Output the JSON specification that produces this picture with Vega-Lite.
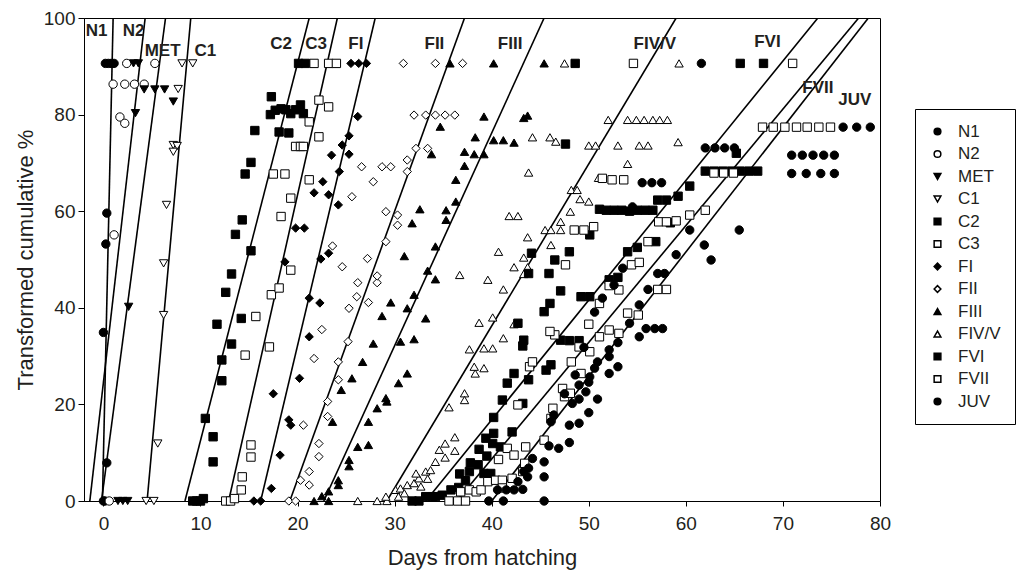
{
"$schema": "https://vega.github.io/schema/vega-lite/v6.json",
"width": 796, "height": 483,
"autosize": {"type": "none"},
"padding": {"left": 84, "top": 18, "right": 143, "bottom": 78},
"config": {"view": {"stroke": "black", "strokeWidth": 1}, "font": "Liberation Sans",
  "axis": {"grid": false, "domainColor": "black", "tickColor": "black", "labelColor": "#231f20", "titleColor": "#231f20", "labelFont": "Liberation Sans", "titleFont": "Liberation Sans", "labelFontSize": 19, "titleFontSize": 22, "titleFontWeight": "normal", "labelFlush": false},
  "legend": {"labelFont": "Liberation Sans", "labelColor": "#231f20"}},
"datasets": {
"lines": [
{"stage":"N1","day":-0.1,"pct":0},{"stage":"N1","day":1.0,"pct":100},
{"stage":"N2","day":-1.4,"pct":0},{"stage":"N2","day":4.3,"pct":100},
{"stage":"MET","day":-0.2,"pct":0},{"stage":"MET","day":6.4,"pct":100},
{"stage":"C1","day":4.5,"pct":0},{"stage":"C1","day":9.0,"pct":100},
{"stage":"C2","day":8.4,"pct":0},{"stage":"C2","day":21.2,"pct":100},
{"stage":"C3","day":12.9,"pct":0},{"stage":"C3","day":24.1,"pct":100},
{"stage":"FI","day":16.2,"pct":0},{"stage":"FI","day":28.0,"pct":100},
{"stage":"FII","day":19.2,"pct":0},{"stage":"FII","day":37.2,"pct":100},
{"stage":"FIII","day":22.7,"pct":0},{"stage":"FIII","day":45.4,"pct":100},
{"stage":"FIV/V","day":29.2,"pct":0},{"stage":"FIV/V","day":59.0,"pct":100},
{"stage":"FVI","day":33.2,"pct":0},{"stage":"FVI","day":73.6,"pct":100},
{"stage":"FVII","day":36.4,"pct":0},{"stage":"FVII","day":77.8,"pct":100},
{"stage":"JUV","day":40.0,"pct":0},{"stage":"JUV","day":78.8,"pct":100}
],
"labels": [
{"label":"N1","day":-0.7,"pct":97.3},{"label":"N2","day":3.1,"pct":97.3},{"label":"MET","day":6.1,"pct":93.2},{"label":"C1","day":10.5,"pct":93.2},
{"label":"C2","day":18.3,"pct":94.7},{"label":"C3","day":21.9,"pct":94.7},{"label":"FI","day":26.0,"pct":94.7},{"label":"FII","day":34.1,"pct":94.7},
{"label":"FIII","day":41.9,"pct":94.7},{"label":"FIV/V","day":56.8,"pct":94.7},{"label":"FVI","day":68.4,"pct":95},{"label":"FVII","day":73.6,"pct":85.5},{"label":"JUV","day":77.4,"pct":83}
],
"pts": [
{"stage":"N1","day":0.2,"pct":90.6},{"stage":"N1","day":0.5,"pct":90.6},{"stage":"N1","day":0.8,"pct":90.6},{"stage":"N1","day":1.1,"pct":90.6},{"stage":"N1","day":0.35,"pct":59.6},{"stage":"N1","day":0.25,"pct":53.2},{"stage":"N1","day":0.0,"pct":34.9},{"stage":"N1","day":0.35,"pct":7.9},{"stage":"N1","day":0.0,"pct":0},{"stage":"N1","day":0.15,"pct":0},
{"stage":"N2","day":2.4,"pct":90.6},{"stage":"N2","day":5.3,"pct":90.6},{"stage":"N2","day":1.0,"pct":86.3},{"stage":"N2","day":2.2,"pct":86.3},{"stage":"N2","day":3.2,"pct":86.3},{"stage":"N2","day":4.2,"pct":86.3},{"stage":"N2","day":1.7,"pct":79.5},{"stage":"N2","day":2.2,"pct":78.2},{"stage":"N2","day":1.1,"pct":55.1},{"stage":"N2","day":0.6,"pct":0},
{"stage":"MET","day":3.1,"pct":90.6},{"stage":"MET","day":3.6,"pct":90.6},{"stage":"MET","day":4.2,"pct":85.2},{"stage":"MET","day":5.3,"pct":85.2},{"stage":"MET","day":6.3,"pct":85.2},{"stage":"MET","day":7.2,"pct":82.7},{"stage":"MET","day":3.3,"pct":80.3},{"stage":"MET","day":2.6,"pct":40.2},{"stage":"MET","day":1.5,"pct":0},{"stage":"MET","day":2.0,"pct":0},{"stage":"MET","day":2.5,"pct":0},
{"stage":"C1","day":8.1,"pct":90.6},{"stage":"C1","day":9.2,"pct":90.6},{"stage":"C1","day":7.7,"pct":85.3},{"stage":"C1","day":7.2,"pct":73.7},{"stage":"C1","day":7.6,"pct":73.5},{"stage":"C1","day":7.2,"pct":72.3},{"stage":"C1","day":6.5,"pct":61.3},{"stage":"C1","day":6.2,"pct":49.2},{"stage":"C1","day":6.2,"pct":38.5},{"stage":"C1","day":5.6,"pct":11.9},{"stage":"C1","day":4.4,"pct":0},{"stage":"C1","day":5.2,"pct":0},
{"stage":"C2","day":9.2,"pct":0},{"stage":"C2","day":9.6,"pct":0},{"stage":"C2","day":10.0,"pct":0},{"stage":"C2","day":10.3,"pct":0.5},{"stage":"C2","day":11.3,"pct":8.1},{"stage":"C2","day":11.3,"pct":13.3},{"stage":"C2","day":10.5,"pct":17.1},{"stage":"C2","day":12.2,"pct":24.9},{"stage":"C2","day":12.2,"pct":29.2},{"stage":"C2","day":13.2,"pct":32.5},{"stage":"C2","day":11.7,"pct":36.6},{"stage":"C2","day":14.2,"pct":37.8},{"stage":"C2","day":12.6,"pct":43.2},{"stage":"C2","day":13.2,"pct":47},{"stage":"C2","day":15.2,"pct":51.8},{"stage":"C2","day":13.6,"pct":55.2},{"stage":"C2","day":14.3,"pct":58.2},{"stage":"C2","day":14.6,"pct":67.7},{"stage":"C2","day":15.2,"pct":70.1},{"stage":"C2","day":15.6,"pct":76.7},{"stage":"C2","day":17.3,"pct":83.7},{"stage":"C2","day":17.2,"pct":80.0},{"stage":"C2","day":17.7,"pct":80.9},{"stage":"C2","day":18.3,"pct":81.2},{"stage":"C2","day":18.8,"pct":81.0},{"stage":"C2","day":19.3,"pct":80.2},{"stage":"C2","day":19.8,"pct":81.0},{"stage":"C2","day":20.3,"pct":82.0},{"stage":"C2","day":20.6,"pct":80.2},{"stage":"C2","day":18.1,"pct":76.4},{"stage":"C2","day":19.1,"pct":76.2},{"stage":"C2","day":20.1,"pct":90.6},{"stage":"C2","day":20.8,"pct":90.6},
{"stage":"C3","day":12.6,"pct":0},{"stage":"C3","day":13.1,"pct":0},{"stage":"C3","day":13.5,"pct":0.5},{"stage":"C3","day":14.2,"pct":2.3},{"stage":"C3","day":14.3,"pct":5.0},{"stage":"C3","day":15.2,"pct":9.1},{"stage":"C3","day":15.2,"pct":11.6},{"stage":"C3","day":14.6,"pct":30.2},{"stage":"C3","day":17.1,"pct":31.9},{"stage":"C3","day":15.7,"pct":38.2},{"stage":"C3","day":17.3,"pct":42.7},{"stage":"C3","day":18.1,"pct":44.1},{"stage":"C3","day":19.3,"pct":47.8},{"stage":"C3","day":18.3,"pct":58.9},{"stage":"C3","day":19.3,"pct":62.7},{"stage":"C3","day":21.2,"pct":66.5},{"stage":"C3","day":17.5,"pct":67.7},{"stage":"C3","day":18.7,"pct":67.7},{"stage":"C3","day":19.8,"pct":73.4},{"stage":"C3","day":20.3,"pct":73.4},{"stage":"C3","day":20.6,"pct":73.4},{"stage":"C3","day":22.2,"pct":75.4},{"stage":"C3","day":21.2,"pct":78.5},{"stage":"C3","day":23.2,"pct":81.6},{"stage":"C3","day":22.2,"pct":83.0},{"stage":"C3","day":21.7,"pct":90.6},{"stage":"C3","day":23.2,"pct":90.6},{"stage":"C3","day":24.0,"pct":90.6},
{"stage":"FI","day":15.5,"pct":0},{"stage":"FI","day":16.2,"pct":0},{"stage":"FI","day":17.3,"pct":2.6},{"stage":"FI","day":18.2,"pct":9.5},{"stage":"FI","day":19.1,"pct":16.8},{"stage":"FI","day":19.3,"pct":15.7},{"stage":"FI","day":17.5,"pct":22.2},{"stage":"FI","day":20.2,"pct":25.4},{"stage":"FI","day":21.2,"pct":34.0},{"stage":"FI","day":21.2,"pct":42.0},{"stage":"FI","day":22.3,"pct":41.0},{"stage":"FI","day":18.7,"pct":49.5},{"stage":"FI","day":22.4,"pct":50.1},{"stage":"FI","day":23.2,"pct":51.3},{"stage":"FI","day":19.8,"pct":56.5},{"stage":"FI","day":20.7,"pct":56.5},{"stage":"FI","day":24.2,"pct":61.3},{"stage":"FI","day":21.7,"pct":63.8},{"stage":"FI","day":23.2,"pct":63.4},{"stage":"FI","day":22.6,"pct":66.1},{"stage":"FI","day":24.3,"pct":68.2},{"stage":"FI","day":23.5,"pct":71.6},{"stage":"FI","day":25.3,"pct":71.8},{"stage":"FI","day":24.6,"pct":73.7},{"stage":"FI","day":25.3,"pct":75.6},{"stage":"FI","day":26.2,"pct":79.6},{"stage":"FI","day":25.5,"pct":90.6},{"stage":"FI","day":26.3,"pct":90.6},{"stage":"FI","day":27.1,"pct":90.6},
{"stage":"FII","day":19.1,"pct":0},{"stage":"FII","day":19.8,"pct":0},{"stage":"FII","day":20.3,"pct":4.3},{"stage":"FII","day":21.2,"pct":3.3},{"stage":"FII","day":21.2,"pct":6.1},{"stage":"FII","day":22.2,"pct":9.2},{"stage":"FII","day":22.2,"pct":11.9},{"stage":"FII","day":20.6,"pct":15.7},{"stage":"FII","day":23.1,"pct":17.5},{"stage":"FII","day":23.1,"pct":20.6},{"stage":"FII","day":24.2,"pct":25.1},{"stage":"FII","day":24.2,"pct":28.8},{"stage":"FII","day":21.7,"pct":29.5},{"stage":"FII","day":25.2,"pct":33.0},{"stage":"FII","day":22.5,"pct":35.5},{"stage":"FII","day":25.3,"pct":39.9},{"stage":"FII","day":26.1,"pct":42.3},{"stage":"FII","day":27.3,"pct":41.1},{"stage":"FII","day":26.2,"pct":45.2},{"stage":"FII","day":28.2,"pct":45.2},{"stage":"FII","day":28.2,"pct":46.6},{"stage":"FII","day":24.6,"pct":48.5},{"stage":"FII","day":27.2,"pct":50.2},{"stage":"FII","day":23.6,"pct":52.8},{"stage":"FII","day":29.1,"pct":53.7},{"stage":"FII","day":30.3,"pct":57.1},{"stage":"FII","day":30.3,"pct":59.2},{"stage":"FII","day":29.1,"pct":59.9},{"stage":"FII","day":25.6,"pct":63.0},{"stage":"FII","day":27.8,"pct":66.1},{"stage":"FII","day":31.3,"pct":68.2},{"stage":"FII","day":26.6,"pct":69.2},{"stage":"FII","day":28.7,"pct":69.2},{"stage":"FII","day":29.6,"pct":69.2},{"stage":"FII","day":31.3,"pct":70.6},{"stage":"FII","day":32.2,"pct":73.0},{"stage":"FII","day":33.4,"pct":73.0},{"stage":"FII","day":32.0,"pct":79.9},{"stage":"FII","day":33.2,"pct":79.9},{"stage":"FII","day":34.2,"pct":79.9},{"stage":"FII","day":35.2,"pct":79.9},{"stage":"FII","day":36.2,"pct":79.9},{"stage":"FII","day":30.9,"pct":90.6},{"stage":"FII","day":34.2,"pct":90.6},{"stage":"FII","day":37.0,"pct":90.6},
{"stage":"FIII","day":21.7,"pct":0},{"stage":"FIII","day":22.5,"pct":1.0},{"stage":"FIII","day":23.2,"pct":0},{"stage":"FIII","day":23.2,"pct":2},{"stage":"FIII","day":24.2,"pct":4.3},{"stage":"FIII","day":24.2,"pct":3.3},{"stage":"FIII","day":25.3,"pct":8.5},{"stage":"FIII","day":25.3,"pct":7.2},{"stage":"FIII","day":26.2,"pct":11.2},{"stage":"FIII","day":27.3,"pct":11.6},{"stage":"FIII","day":23.6,"pct":16.4},{"stage":"FIII","day":27.3,"pct":16.4},{"stage":"FIII","day":28.2,"pct":19.2},{"stage":"FIII","day":29.1,"pct":21.3},{"stage":"FIII","day":29.2,"pct":20.6},{"stage":"FIII","day":24.5,"pct":23.0},{"stage":"FIII","day":30.4,"pct":24.4},{"stage":"FIII","day":25.6,"pct":25.4},{"stage":"FIII","day":31.3,"pct":26.4},{"stage":"FIII","day":26.7,"pct":28.8},{"stage":"FIII","day":27.8,"pct":32.6},{"stage":"FIII","day":30.6,"pct":33.0},{"stage":"FIII","day":32.0,"pct":33.5},{"stage":"FIII","day":33.2,"pct":37.8},{"stage":"FIII","day":28.7,"pct":38.3},{"stage":"FIII","day":31.3,"pct":39.9},{"stage":"FIII","day":29.6,"pct":41.1},{"stage":"FIII","day":32.0,"pct":42.7},{"stage":"FIII","day":33.4,"pct":47.7},{"stage":"FIII","day":34.2,"pct":45.9},{"stage":"FIII","day":31.0,"pct":50.7},{"stage":"FIII","day":34.2,"pct":52.7},{"stage":"FIII","day":31.8,"pct":57.5},{"stage":"FIII","day":32.6,"pct":60.4},{"stage":"FIII","day":35.3,"pct":60.2},{"stage":"FIII","day":35.3,"pct":58.2},{"stage":"FIII","day":36.3,"pct":62.0},{"stage":"FIII","day":36.3,"pct":66.5},{"stage":"FIII","day":37.2,"pct":69.4},{"stage":"FIII","day":37.2,"pct":72.3},{"stage":"FIII","day":38.2,"pct":71.8},{"stage":"FIII","day":39.2,"pct":71.8},{"stage":"FIII","day":33.8,"pct":71.8},{"stage":"FIII","day":38.3,"pct":75.3},{"stage":"FIII","day":40.2,"pct":74.7},{"stage":"FIII","day":41.2,"pct":74.7},{"stage":"FIII","day":42.3,"pct":74.2},{"stage":"FIII","day":34.7,"pct":77.5},{"stage":"FIII","day":39.2,"pct":79.6},{"stage":"FIII","day":43.3,"pct":79.3},{"stage":"FIII","day":43.7,"pct":79.8},{"stage":"FIII","day":35.7,"pct":90.6},{"stage":"FIII","day":40.2,"pct":90.6},{"stage":"FIII","day":45.4,"pct":90.6},
{"stage":"FIV/V","day":26.2,"pct":0},{"stage":"FIV/V","day":28.2,"pct":0},{"stage":"FIV/V","day":29.2,"pct":0},{"stage":"FIV/V","day":29.1,"pct":0.9},{"stage":"FIV/V","day":30.1,"pct":2.3},{"stage":"FIV/V","day":30.4,"pct":0.9},{"stage":"FIV/V","day":30.6,"pct":2.6},{"stage":"FIV/V","day":31.0,"pct":1.6},{"stage":"FIV/V","day":31.3,"pct":3.3},{"stage":"FIV/V","day":32.0,"pct":3.7},{"stage":"FIV/V","day":32.5,"pct":4.7},{"stage":"FIV/V","day":32.2,"pct":5.7},{"stage":"FIV/V","day":33.4,"pct":4.6},{"stage":"FIV/V","day":32.7,"pct":3.0},{"stage":"FIV/V","day":33.2,"pct":6.1},{"stage":"FIV/V","day":33.7,"pct":6.4},{"stage":"FIV/V","day":34.2,"pct":8.1},{"stage":"FIV/V","day":34.6,"pct":10.6},{"stage":"FIV/V","day":35.2,"pct":11.9},{"stage":"FIV/V","day":35.2,"pct":9.0},{"stage":"FIV/V","day":36.2,"pct":10.4},{"stage":"FIV/V","day":36.2,"pct":13.2},{"stage":"FIV/V","day":35.6,"pct":19.4},{"stage":"FIV/V","day":37.2,"pct":22.3},{"stage":"FIV/V","day":37.2,"pct":20.9},{"stage":"FIV/V","day":38.3,"pct":26.4},{"stage":"FIV/V","day":38.2,"pct":27.8},{"stage":"FIV/V","day":39.2,"pct":27.5},{"stage":"FIV/V","day":37.7,"pct":31.4},{"stage":"FIV/V","day":39.2,"pct":31.6},{"stage":"FIV/V","day":40.1,"pct":31.6},{"stage":"FIV/V","day":41.2,"pct":33.7},{"stage":"FIV/V","day":42.3,"pct":36.6},{"stage":"FIV/V","day":38.7,"pct":36.9},{"stage":"FIV/V","day":40.1,"pct":38.0},{"stage":"FIV/V","day":41.2,"pct":43.8},{"stage":"FIV/V","day":39.6,"pct":45.8},{"stage":"FIV/V","day":36.7,"pct":46.8},{"stage":"FIV/V","day":42.3,"pct":48.4},{"stage":"FIV/V","day":43.3,"pct":47.0},{"stage":"FIV/V","day":43.7,"pct":48.4},{"stage":"FIV/V","day":43.3,"pct":50.4},{"stage":"FIV/V","day":40.7,"pct":51.6},{"stage":"FIV/V","day":46.1,"pct":53.0},{"stage":"FIV/V","day":43.7,"pct":54.6},{"stage":"FIV/V","day":45.5,"pct":56.1},{"stage":"FIV/V","day":46.1,"pct":56.1},{"stage":"FIV/V","day":47.1,"pct":56.1},{"stage":"FIV/V","day":47.1,"pct":57.8},{"stage":"FIV/V","day":48.1,"pct":59.9},{"stage":"FIV/V","day":41.8,"pct":59.0},{"stage":"FIV/V","day":42.7,"pct":59.0},{"stage":"FIV/V","day":49.1,"pct":62.5},{"stage":"FIV/V","day":50.0,"pct":62.0},{"stage":"FIV/V","day":48.2,"pct":64.4},{"stage":"FIV/V","day":48.8,"pct":64.4},{"stage":"FIV/V","day":51.0,"pct":66.9},{"stage":"FIV/V","day":43.8,"pct":68.0},{"stage":"FIV/V","day":54.0,"pct":69.8},{"stage":"FIV/V","day":44.2,"pct":75.3},{"stage":"FIV/V","day":46.0,"pct":75.3},{"stage":"FIV/V","day":46.6,"pct":74.4},{"stage":"FIV/V","day":50.0,"pct":73.6},{"stage":"FIV/V","day":50.7,"pct":73.6},{"stage":"FIV/V","day":53.0,"pct":73.6},{"stage":"FIV/V","day":55.2,"pct":73.6},{"stage":"FIV/V","day":56.1,"pct":73.6},{"stage":"FIV/V","day":52.0,"pct":78.9},{"stage":"FIV/V","day":54.0,"pct":78.9},{"stage":"FIV/V","day":54.9,"pct":78.9},{"stage":"FIV/V","day":55.7,"pct":78.9},{"stage":"FIV/V","day":56.6,"pct":78.9},{"stage":"FIV/V","day":57.3,"pct":78.9},{"stage":"FIV/V","day":58.1,"pct":78.9},{"stage":"FIV/V","day":47.5,"pct":90.6},{"stage":"FIV/V","day":59.3,"pct":90.6},{"stage":"FIV/V","day":59.2,"pct":74.3},
{"stage":"FVI","day":31.8,"pct":0},{"stage":"FVI","day":32.5,"pct":0},{"stage":"FVI","day":33.2,"pct":0.9},{"stage":"FVI","day":33.9,"pct":0.9},{"stage":"FVI","day":34.2,"pct":0.9},{"stage":"FVI","day":34.9,"pct":1.2},{"stage":"FVI","day":35.8,"pct":2.3},{"stage":"FVI","day":36.6,"pct":2.8},{"stage":"FVI","day":37.3,"pct":4.2},{"stage":"FVI","day":36.7,"pct":5.6},{"stage":"FVI","day":37.7,"pct":6.1},{"stage":"FVI","day":37.8,"pct":7.9},{"stage":"FVI","day":38.6,"pct":7.5},{"stage":"FVI","day":39.2,"pct":5.7},{"stage":"FVI","day":39.9,"pct":5.7},{"stage":"FVI","day":38.7,"pct":10.7},{"stage":"FVI","day":39.5,"pct":9.3},{"stage":"FVI","day":39.4,"pct":13.0},{"stage":"FVI","day":40.1,"pct":11.9},{"stage":"FVI","day":40.2,"pct":14.0},{"stage":"FVI","day":42.1,"pct":14.3},{"stage":"FVI","day":40.2,"pct":17.3},{"stage":"FVI","day":40.9,"pct":11.2},{"stage":"FVI","day":41.1,"pct":20.9},{"stage":"FVI","day":43.2,"pct":20.2},{"stage":"FVI","day":41.6,"pct":24.4},{"stage":"FVI","day":42.3,"pct":26.4},{"stage":"FVI","day":43.8,"pct":25.1},{"stage":"FVI","day":45.6,"pct":27.1},{"stage":"FVI","day":46.1,"pct":28.2},{"stage":"FVI","day":43.3,"pct":33.3},{"stage":"FVI","day":43.2,"pct":32.1},{"stage":"FVI","day":47.1,"pct":33.3},{"stage":"FVI","day":48.0,"pct":33.2},{"stage":"FVI","day":49.0,"pct":33.2},{"stage":"FVI","day":42.7,"pct":36.8},{"stage":"FVI","day":45.4,"pct":39.2},{"stage":"FVI","day":46.0,"pct":40.9},{"stage":"FVI","day":47.1,"pct":43.5},{"stage":"FVI","day":49.2,"pct":42.3},{"stage":"FVI","day":50.1,"pct":42.3},{"stage":"FVI","day":43.8,"pct":47.1},{"stage":"FVI","day":45.9,"pct":47.1},{"stage":"FVI","day":52.1,"pct":45.8},{"stage":"FVI","day":53.0,"pct":46.3},{"stage":"FVI","day":46.5,"pct":49.9},{"stage":"FVI","day":44.1,"pct":51.3},{"stage":"FVI","day":48.0,"pct":51.6},{"stage":"FVI","day":54.0,"pct":51.6},{"stage":"FVI","day":55.0,"pct":52.5},{"stage":"FVI","day":56.9,"pct":53.7},{"stage":"FVI","day":50.1,"pct":55.1},{"stage":"FVI","day":51.1,"pct":60.4},{"stage":"FVI","day":51.8,"pct":60.2},{"stage":"FVI","day":52.6,"pct":60.2},{"stage":"FVI","day":53.4,"pct":60.2},{"stage":"FVI","day":54.2,"pct":60.0},{"stage":"FVI","day":55.0,"pct":60.2},{"stage":"FVI","day":55.8,"pct":60.2},{"stage":"FVI","day":56.6,"pct":60.2},{"stage":"FVI","day":57.1,"pct":62.3},{"stage":"FVI","day":58.0,"pct":62.3},{"stage":"FVI","day":58.4,"pct":57.6},{"stage":"FVI","day":47.6,"pct":73.9},{"stage":"FVI","day":48.6,"pct":90.6},{"stage":"FVI","day":65.6,"pct":90.6},{"stage":"FVI","day":68.0,"pct":90.6},{"stage":"FVI","day":65.2,"pct":72.0},{"stage":"FVI","day":62.0,"pct":68.3},{"stage":"FVI","day":62.9,"pct":68.3},{"stage":"FVI","day":63.8,"pct":68.3},{"stage":"FVI","day":64.7,"pct":68.3},{"stage":"FVI","day":65.6,"pct":68.3},{"stage":"FVI","day":66.5,"pct":68.3},{"stage":"FVI","day":67.4,"pct":68.3},{"stage":"FVI","day":59.2,"pct":63.1},{"stage":"FVI","day":60.4,"pct":65.2},
{"stage":"FVII","day":35.6,"pct":0},{"stage":"FVII","day":36.5,"pct":0},{"stage":"FVII","day":37.3,"pct":0},{"stage":"FVII","day":36.8,"pct":1.9},{"stage":"FVII","day":37.7,"pct":2.3},{"stage":"FVII","day":38.4,"pct":1.9},{"stage":"FVII","day":38.9,"pct":2.3},{"stage":"FVII","day":39.6,"pct":4.0},{"stage":"FVII","day":40.4,"pct":4.3},{"stage":"FVII","day":41.1,"pct":4.3},{"stage":"FVII","day":41.1,"pct":2.7},{"stage":"FVII","day":42.1,"pct":4.7},{"stage":"FVII","day":43.2,"pct":6.1},{"stage":"FVII","day":43.4,"pct":7.8},{"stage":"FVII","day":40.7,"pct":8.6},{"stage":"FVII","day":41.6,"pct":10.9},{"stage":"FVII","day":42.3,"pct":9.5},{"stage":"FVII","day":43.5,"pct":11.2},{"stage":"FVII","day":45.4,"pct":12.6},{"stage":"FVII","day":46.1,"pct":17.1},{"stage":"FVII","day":46.3,"pct":19.2},{"stage":"FVII","day":42.7,"pct":19.9},{"stage":"FVII","day":47.3,"pct":23.3},{"stage":"FVII","day":47.5,"pct":21.6},{"stage":"FVII","day":48.1,"pct":22.3},{"stage":"FVII","day":43.9,"pct":27.8},{"stage":"FVII","day":44.2,"pct":28.8},{"stage":"FVII","day":48.2,"pct":28.8},{"stage":"FVII","day":49.2,"pct":26.4},{"stage":"FVII","day":46.5,"pct":34.4},{"stage":"FVII","day":46.0,"pct":35.1},{"stage":"FVII","day":49.0,"pct":31.9},{"stage":"FVII","day":50.1,"pct":30.9},{"stage":"FVII","day":51.1,"pct":34.0},{"stage":"FVII","day":52.1,"pct":35.4},{"stage":"FVII","day":53.1,"pct":34.7},{"stage":"FVII","day":50.0,"pct":36.6},{"stage":"FVII","day":51.1,"pct":40.9},{"stage":"FVII","day":54.0,"pct":38.9},{"stage":"FVII","day":55.1,"pct":38.5},{"stage":"FVII","day":52.1,"pct":44.6},{"stage":"FVII","day":53.1,"pct":43.7},{"stage":"FVII","day":57.1,"pct":43.8},{"stage":"FVII","day":58.0,"pct":43.8},{"stage":"FVII","day":47.6,"pct":48.9},{"stage":"FVII","day":54.4,"pct":48.9},{"stage":"FVII","day":55.2,"pct":49.4},{"stage":"FVII","day":56.1,"pct":53.7},{"stage":"FVII","day":48.5,"pct":56.1},{"stage":"FVII","day":49.5,"pct":56.1},{"stage":"FVII","day":50.5,"pct":56.8},{"stage":"FVII","day":57.2,"pct":57.8},{"stage":"FVII","day":58.0,"pct":57.8},{"stage":"FVII","day":51.4,"pct":66.8},{"stage":"FVII","day":52.4,"pct":66.5},{"stage":"FVII","day":53.6,"pct":66.5},{"stage":"FVII","day":54.6,"pct":90.6},{"stage":"FVII","day":71.0,"pct":90.6},{"stage":"FVII","day":67.9,"pct":77.4},{"stage":"FVII","day":69.0,"pct":77.4},{"stage":"FVII","day":70.2,"pct":77.4},{"stage":"FVII","day":71.4,"pct":77.4},{"stage":"FVII","day":72.5,"pct":77.4},{"stage":"FVII","day":73.7,"pct":77.4},{"stage":"FVII","day":74.9,"pct":77.4},{"stage":"FVII","day":62.9,"pct":67.9},{"stage":"FVII","day":63.9,"pct":67.9},{"stage":"FVII","day":64.9,"pct":67.9},{"stage":"FVII","day":60.4,"pct":59.2},{"stage":"FVII","day":62.0,"pct":60.2},{"stage":"FVII","day":59.0,"pct":58.0},
{"stage":"JUV","day":39.7,"pct":0},{"stage":"JUV","day":41.2,"pct":0},{"stage":"JUV","day":45.4,"pct":0},{"stage":"JUV","day":40.6,"pct":2.3},{"stage":"JUV","day":41.5,"pct":2.3},{"stage":"JUV","day":42.3,"pct":2.3},{"stage":"JUV","day":43.2,"pct":2.4},{"stage":"JUV","day":42.7,"pct":4.0},{"stage":"JUV","day":43.3,"pct":6.1},{"stage":"JUV","day":43.8,"pct":6.8},{"stage":"JUV","day":44.2,"pct":8.8},{"stage":"JUV","day":43.7,"pct":5.0},{"stage":"JUV","day":45.4,"pct":8.1},{"stage":"JUV","day":45.4,"pct":5.0},{"stage":"JUV","day":45.9,"pct":11.4},{"stage":"JUV","day":46.9,"pct":10.9},{"stage":"JUV","day":48.0,"pct":12.1},{"stage":"JUV","day":46.1,"pct":16.4},{"stage":"JUV","day":46.4,"pct":17.8},{"stage":"JUV","day":48.0,"pct":15.7},{"stage":"JUV","day":49.0,"pct":16.1},{"stage":"JUV","day":50.0,"pct":18.3},{"stage":"JUV","day":48.3,"pct":20.2},{"stage":"JUV","day":47.5,"pct":22.2},{"stage":"JUV","day":49.0,"pct":21.1},{"stage":"JUV","day":50.9,"pct":21.1},{"stage":"JUV","day":49.7,"pct":22.6},{"stage":"JUV","day":49.0,"pct":24.0},{"stage":"JUV","day":48.6,"pct":26.1},{"stage":"JUV","day":50.0,"pct":24.6},{"stage":"JUV","day":50.1,"pct":25.7},{"stage":"JUV","day":49.5,"pct":31.8},{"stage":"JUV","day":50.6,"pct":27.5},{"stage":"JUV","day":50.9,"pct":28.8},{"stage":"JUV","day":52.1,"pct":26.4},{"stage":"JUV","day":53.0,"pct":27.8},{"stage":"JUV","day":52.1,"pct":29.9},{"stage":"JUV","day":52.1,"pct":31.3},{"stage":"JUV","day":53.0,"pct":32.8},{"stage":"JUV","day":50.6,"pct":39.1},{"stage":"JUV","day":51.4,"pct":42.0},{"stage":"JUV","day":52.6,"pct":44.7},{"stage":"JUV","day":53.5,"pct":48.2},{"stage":"JUV","day":54.2,"pct":36.8},{"stage":"JUV","day":55.2,"pct":34.0},{"stage":"JUV","day":55.2,"pct":40.6},{"stage":"JUV","day":55.9,"pct":35.7},{"stage":"JUV","day":56.8,"pct":35.7},{"stage":"JUV","day":57.6,"pct":35.7},{"stage":"JUV","day":56.1,"pct":43.8},{"stage":"JUV","day":57.1,"pct":47.1},{"stage":"JUV","day":57.8,"pct":47.1},{"stage":"JUV","day":54.5,"pct":60.9},{"stage":"JUV","day":55.5,"pct":65.9},{"stage":"JUV","day":56.5,"pct":65.9},{"stage":"JUV","day":57.5,"pct":65.9},{"stage":"JUV","day":61.6,"pct":90.6},{"stage":"JUV","day":76.2,"pct":77.4},{"stage":"JUV","day":77.6,"pct":77.4},{"stage":"JUV","day":79.0,"pct":77.4},{"stage":"JUV","day":62.0,"pct":73.1},{"stage":"JUV","day":63.0,"pct":73.1},{"stage":"JUV","day":64.0,"pct":73.1},{"stage":"JUV","day":65.0,"pct":73.1},{"stage":"JUV","day":70.9,"pct":71.6},{"stage":"JUV","day":72.0,"pct":71.6},{"stage":"JUV","day":73.1,"pct":71.6},{"stage":"JUV","day":74.2,"pct":71.6},{"stage":"JUV","day":75.3,"pct":71.6},{"stage":"JUV","day":70.9,"pct":67.8},{"stage":"JUV","day":72.4,"pct":67.8},{"stage":"JUV","day":73.9,"pct":67.8},{"stage":"JUV","day":75.3,"pct":67.8},{"stage":"JUV","day":60.4,"pct":56.1},{"stage":"JUV","day":61.9,"pct":53.0},{"stage":"JUV","day":62.6,"pct":49.9},{"stage":"JUV","day":65.5,"pct":56.1},{"stage":"JUV","day":59.0,"pct":51.0}
]},
"layer": [
{"data": {"name": "lines"}, "mark": {"type": "line", "color": "black", "strokeWidth": 1.6, "clip": true},
 "encoding": {"x": {"field": "day", "type": "quantitative", "scale": {"domain": [-2, 80], "nice": false, "zero": false},
   "axis": {"values": [0,10,20,30,40,50,60,70,80], "title": "Days from hatching", "tickSize": 5, "labelPadding": 8, "titlePadding": 14}},
  "y": {"field": "pct", "type": "quantitative", "scale": {"domain": [0, 100], "nice": false},
   "axis": {"values": [0,20,40,60,80,100], "title": "Transformed cumulative %", "tickSize": 6, "labelPadding": 3, "titlePadding": 6}},
  "detail": {"field": "stage"}}},
{"data": {"name": "pts"}, "mark": {"type": "point", "size": 70, "stroke": "black", "strokeWidth": 1, "opacity": 1},
 "encoding": {"x": {"field": "day", "type": "quantitative"}, "y": {"field": "pct", "type": "quantitative"},
  "shape": {"field": "stage", "type": "nominal", "scale": {"domain": ["N1","N2","MET","C1","C2","C3","FI","FII","FIII","FIV/V","FVI","FVII","JUV"], "range": ["circle","circle","triangle-down","triangle-down","square","square","diamond","diamond","triangle-up","triangle-up","square","square","circle"]},
   "legend": {"title": null, "orient": "none", "legendX": 831, "legendY": 91, "strokeColor": "black", "fillColor": "white", "padding": 14, "labelFontSize": 17, "symbolSize": 45, "rowPadding": 4.5, "labelOffset": 12, "labelExpr": "datum.label + '          '", "encode": {"symbols": {"update": {"stroke": {"value": "black"}, "strokeWidth": {"value": 1}}}}}},
  "fill": {"field": "stage", "type": "nominal", "scale": {"domain": ["N1","N2","MET","C1","C2","C3","FI","FII","FIII","FIV/V","FVI","FVII","JUV"], "range": ["black","white","black","white","black","white","black","white","black","white","black","white","black"]},
   "legend": {"title": null, "orient": "none", "legendX": 831, "legendY": 91, "strokeColor": "black", "fillColor": "white", "padding": 14, "labelFontSize": 17, "symbolSize": 45, "rowPadding": 4.5, "labelOffset": 12, "labelExpr": "datum.label + '          '", "encode": {"symbols": {"update": {"stroke": {"value": "black"}, "strokeWidth": {"value": 1}}}}}}}},
{"data": {"name": "labels"}, "mark": {"type": "text", "font": "Liberation Sans", "fontWeight": "bold", "fontSize": 17, "color": "#231f20"},
 "encoding": {"x": {"field": "day", "type": "quantitative"}, "y": {"field": "pct", "type": "quantitative"}, "text": {"field": "label"}}}
]
}
